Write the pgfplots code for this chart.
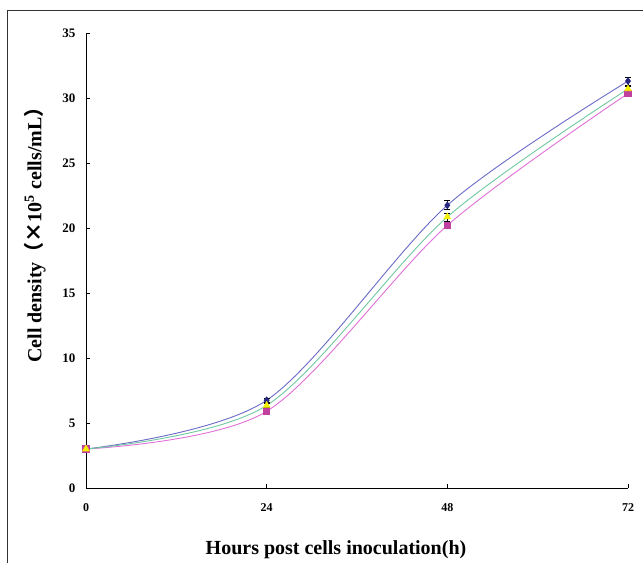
\documentclass[border=0pt]{standalone}
\usepackage{fontspec}
\setmainfont{Liberation Serif}
\newfontfamily\cjk{Noto Sans CJK SC}
\usepackage{pgfplots}
\pgfplotsset{compat=1.18}

\definecolor{lineblue}{HTML}{6A6AC8}
\definecolor{linegreen}{HTML}{70C8A0}
\definecolor{linepink}{HTML}{E070D8}
\definecolor{mknavy}{HTML}{27277F}
\definecolor{mkyellow}{HTML}{F5F000}
\definecolor{mkmag}{HTML}{C040A0}

\begin{document}
\begin{tikzpicture}[x=1pt,y=1pt]
\useasboundingbox (0,0) rectangle (643,563);
% outer frame (only left and top edges are in view)
\draw[line width=0.9pt,black!80] (7,0) -- (7,552.5) -- (643,552.5);

\begin{axis}[
    at={(86pt,75pt)}, anchor=south west,
    scale only axis,
    width=542pt, height=455pt,
    xmin=0, xmax=72, ymin=0, ymax=35,
    enlargelimits=false,
    axis x line=bottom, axis y line=left,
    axis line style={-, line width=0.8pt},
    xtick={0,24,48,72},
    ytick={0,5,...,35},
    tick align=inside,
    major tick length=4pt,
    tick style={black, line width=0.6pt},
    /pgf/number format/assume math mode=true,
    xticklabel style={font=\fontsize{12}{14}\selectfont\bfseries, yshift=-12pt},
    yticklabel style={font=\fontsize{13}{15}\selectfont\bfseries, xshift=-7pt},
    clip=false,
    error bars/error bar style={black, line width=0.7pt},
    error bars/error mark options={rotate=90, mark size=3pt, black, line width=0.7pt},
]
% diamond series
\addplot[lineblue, line width=0.9pt, smooth, mark=diamond*, mark size=3.2pt,
    mark options={fill=mknavy, draw=mknavy},
    error bars/.cd, y dir=both, y explicit]
    coordinates {(0,3.0) +- (0,0.1) (24,6.75) +- (0,0.15) (48,21.75) +- (0,0.35) (72,31.3) +- (0,0.3)};
% square series
\addplot[linepink, line width=0.9pt, smooth, mark=square*, mark size=3.2pt,
    mark options={fill=mkmag, draw=mkmag},
    error bars/.cd, y dir=both, y explicit]
    coordinates {(0,3.0) +- (0,0.1) (24,5.9) +- (0,0.15) (48,20.2) +- (0,0.2) (72,30.35) +- (0,0.15)};
% triangle series
\addplot[linegreen, line width=0.9pt, smooth, mark=triangle*, mark size=3.6pt,
    mark options={fill=mkyellow, draw=mkyellow},
    error bars/.cd, y dir=both, y explicit]
    coordinates {(0,3.0) +- (0,0.1) (24,6.35) +- (0,0.15) (48,20.85) +- (0,0.3) (72,30.7) +- (0,0.2)};
\end{axis}

\node[rotate=90, font=\fontsize{20}{22}\selectfont\bfseries] at (35,333)
    {Cell density{\cjk （×}10\textsuperscript{5} cells/mL{\cjk ）}};
\node[font=\fontsize{20}{22}\selectfont\bfseries] at (336,13)
    {Hours post cells inoculation(h)};
\end{tikzpicture}
\end{document}
